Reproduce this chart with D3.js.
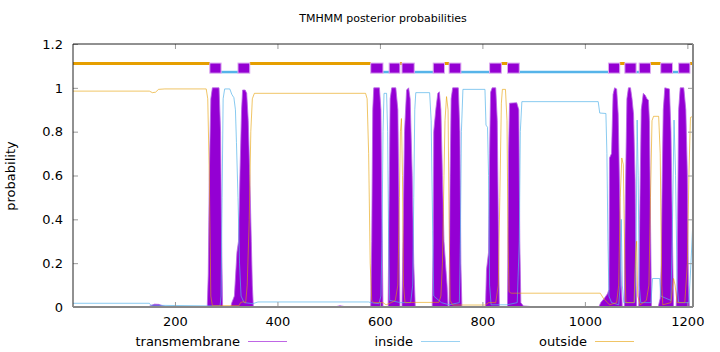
<!DOCTYPE html>
<html>
<head>
<meta charset="utf-8">
<script src="https://cdn.jsdelivr.net/npm/d3@7"></script>
<style>
  body { margin: 0; background: #fff; }
  svg { display: block; font-family: "DejaVu Sans", sans-serif; }
</style>
</head>
<body>
<svg id="chart" width="720" height="352"></svg>
<script>
const seqLength = 1211;

// predicted topology (residue ranges)
const tmSegments = [[268, 290], [323, 346], [582, 606], [618, 639], [643, 667], [704, 726], [735, 758],
  [814, 837], [849, 872], [1046, 1068], [1078, 1100], [1106, 1128], [1148, 1171], [1183, 1205]];
const insideSegments = [[290, 323], [606, 618], [667, 704], [758, 814], [872, 1046], [1100, 1106], [1171, 1183]];
const outsideSegments = [[1, 268], [346, 582], [639, 643], [726, 735], [837, 849], [1068, 1078], [1128, 1148], [1205, 1211]];

// posterior probabilities, [residue, probability]
const tmKnots = [[1, 0], [148, 0], [152, 0.006], [160, 0.013], [168, 0.012], [176, 0.006], [185, 0],
  [263, 0], [265, 0.15], [267, 0.6], [270, 0.95], [273, 1.0], [286, 1.0], [289, 0.8], [291, 0.3], [293, 0],
  [309, 0], [311, 0.02], [316, 0.05], [321, 0.25], [324, 0.3], [327, 0.62], [330, 0.9], [332, 0.99], [337, 0.99],
  [340, 0.975], [343, 0.85], [346, 0.6], [349, 0.3], [351, 0.1], [353, 0],
  [512, 0], [522, 0.006], [535, 0],
  [582, 0], [584, 0.3], [586, 0.9], [588, 1.0], [599, 1.0], [602, 0.9], [604, 0.4], [606, 0],
  [616, 0], [618, 0.5], [620, 0.95], [623, 1.0], [631, 1.0], [635, 0.9], [637, 0.5], [639, 0],
  [643, 0], [645, 0.3], [648, 0.8], [652, 0.99], [656, 1.0], [659, 0.95], [663, 0.6], [666, 0.2], [669, 0],
  [702, 0], [704, 0.3], [705, 0.8], [709, 0.9], [713, 0.975], [716, 0.982], [719, 0.9], [722, 0.6], [725, 0.3],
  [728, 0.2], [731, 0.1], [733, 0],
  [735, 0], [737, 0.6], [739, 0.95], [742, 1.0], [753, 1.0], [756, 0.8], [758, 0.2], [760, 0],
  [806, 0], [808, 0.17], [812, 0.25], [814, 0.7], [816, 0.98], [819, 1.0], [826, 1.0], [829, 0.85], [831, 0.4], [833, 0],
  [849, 0], [851, 0.7], [853, 0.93], [867, 0.932], [871, 0.9], [873, 0.3], [875, 0.02], [880, 0.005], [905, 0],
  [1027, 0], [1031, 0.02], [1038, 0.04], [1044, 0.06], [1047, 0.08], [1048, 0.68], [1052, 0.7], [1055, 0.97],
  [1058, 1.0], [1062, 0.995], [1065, 0.88], [1068, 0.5], [1071, 0.1], [1073, 0],
  [1077, 0], [1079, 0.5], [1082, 0.95], [1085, 1.0], [1089, 1.0], [1092, 0.95], [1095, 0.88], [1098, 0.58], [1100, 0.1], [1101, 0],
  [1105, 0], [1107, 0.4], [1110, 0.9], [1114, 0.975], [1118, 0.965], [1121, 0.95], [1124, 0.944], [1126, 0.85], [1128, 0.4], [1130, 0],
  [1143, 0], [1147, 0.04], [1149, 0.2], [1151, 0.6], [1153, 0.9], [1156, 1.0], [1165, 0.995], [1168, 0.8], [1171, 0.3], [1173, 0],
  [1178, 0], [1180, 0.1], [1181, 0.4], [1183, 0.9], [1186, 1.0], [1193, 1.0], [1197, 0.9], [1200, 0.6], [1202, 0.1], [1204, 0], [1211, 0]];

const insideKnots = [[1, 0.017], [150, 0.017], [153, 0.008], [264, 0.005], [288, 0.005], [290, 0.05], [292, 0.5],
  [294, 0.95], [297, 0.995], [307, 0.995], [311, 0.97], [315, 0.955], [318, 0.9], [320, 0.75], [323, 0.5], [326, 0.2],
  [329, 0.05], [335, 0.02], [352, 0.015], [358, 0.02], [362, 0.023], [578, 0.023], [582, 0.02], [598, 0.015],
  [602, 0.05], [604, 0.3], [606, 0.8], [608, 0.975], [613, 0.975], [615, 0.8], [617, 0.3], [619, 0.03], [640, 0.02],
  [660, 0.02], [664, 0.1], [666, 0.5], [668, 0.9], [670, 0.978], [697, 0.978], [700, 0.85], [703, 0.35], [705, 0.05],
  [720, 0.02], [735, 0.01], [755, 0.02], [757, 0.3], [759, 0.8], [762, 0.993], [805, 0.993], [807, 0.83], [810, 0.82],
  [812, 0.6], [814, 0.1], [817, 0.01], [848, 0.01], [868, 0.02], [872, 0.3], [874, 0.8], [877, 0.937], [1026, 0.937],
  [1029, 0.885], [1041, 0.883], [1043, 0.7], [1045, 0.3], [1047, 0.05], [1052, 0.02], [1066, 0.01], [1069, 0.1],
  [1071, 0.4], [1073, 0.1], [1076, 0.02], [1097, 0.02], [1100, 0.3], [1102, 0.853], [1104, 0.6], [1106, 0.1],
  [1109, 0.02], [1129, 0.02], [1132, 0.13], [1146, 0.13], [1148, 0.05], [1168, 0.03], [1171, 0.4], [1174, 0.853],
  [1177, 0.6], [1180, 0.1], [1183, 0.02], [1203, 0.02], [1207, 0.2], [1211, 0.4]];

const outsideKnots = [[1, 0.985], [150, 0.985], [156, 0.978], [162, 0.98], [168, 0.993], [180, 0.995], [261, 0.995],
  [264, 0.95], [267, 0.6], [270, 0.05], [273, 0.006], [325, 0.006], [328, 0.02], [333, 0.024], [338, 0.02], [341, 0.1],
  [345, 0.4], [348, 0.8], [351, 0.95], [355, 0.975], [572, 0.975], [575, 0.95], [578, 0.7], [581, 0.2], [584, 0.03],
  [588, 0.02], [606, 0.02], [612, 0.01], [622, 0.02], [630, 0.03], [635, 0.1], [638, 0.5], [640, 0.8], [642, 0.86],
  [644, 0.6], [646, 0.1], [649, 0.02], [668, 0.021], [715, 0.021], [719, 0.05], [722, 0.2], [725, 0.6], [727, 0.85],
  [730, 0.96], [733, 0.9], [735, 0.4], [737, 0.03], [742, 0.009], [806, 0.009], [812, 0.02], [826, 0.02], [831, 0.1],
  [834, 0.5], [837, 0.93], [839, 0.993], [845, 0.993], [848, 0.85], [850, 0.3], [852, 0.07], [856, 0.063],
  [1030, 0.063], [1036, 0.04], [1044, 0.02], [1048, 0.01], [1062, 0.02], [1066, 0.1], [1069, 0.5], [1072, 0.68],
  [1075, 0.65], [1078, 0.2], [1080, 0.02], [1096, 0.02], [1099, 0.25], [1101, 0.3], [1103, 0.05], [1108, 0.01],
  [1120, 0.03], [1125, 0.1], [1128, 0.5], [1131, 0.85], [1134, 0.87], [1144, 0.87], [1147, 0.7], [1150, 0.1],
  [1152, 0.01], [1168, 0.02], [1173, 0.13], [1176, 0.1], [1180, 0.02], [1195, 0.02], [1200, 0.2], [1203, 0.6],
  [1206, 0.865], [1211, 0.87]];

const xTicks = [200, 400, 600, 800, 1000, 1200];
const yTicks = [0, 0.2, 0.4, 0.6, 0.8, 1, 1.2];
const legendItems = ["transmembrane", "inside", "outside"];

const colTM = "#9400d3", colIn = "#56b4e9", colOut = "#e69f00";
const margin = { left: 73, right: 27, top: 44, bottom: 45 };
const width = 720, height = 352;

const svg = d3.select("#chart");
const x = d3.scaleLinear().domain([1, seqLength]).range([margin.left, width - margin.right]);
const y = d3.scaleLinear().domain([0, 1.2]).range([height - margin.bottom, margin.top]);

svg.append("text")
  .attr("x", 383).attr("y", 22)
  .attr("text-anchor", "middle")
  .style("font-size", "11px")
  .text("TMHMM posterior probabilities");

const plot = svg.append("g");

// transmembrane impulses as filled area
plot.append("path")
  .datum(tmKnots)
  .attr("fill", colTM)
  .attr("stroke", "#b864e4")
  .attr("stroke-width", 0.8)
  .attr("d", d3.area().x((d) => x(d[0])).y0(y(0)).y1((d) => y(d[1])));

const line = d3.line().x((d) => x(d[0])).y((d) => y(d[1]));

plot.append("path")
  .datum(insideKnots)
  .attr("fill", "none")
  .attr("stroke", colIn)
  .attr("stroke-opacity", 0.7)
  .attr("stroke-width", 1)
  .attr("d", line);

plot.append("path")
  .datum(outsideKnots)
  .attr("fill", "none")
  .attr("stroke", colOut)
  .attr("stroke-opacity", 0.6)
  .attr("stroke-width", 1)
  .attr("d", line);

// topology bar on top
plot.selectAll(".out-seg")
  .data(outsideSegments)
  .enter()
  .append("line")
  .attr("x1", (d) => x(d[0])).attr("x2", (d) => x(d[1]))
  .attr("y1", y(1.111)).attr("y2", y(1.111))
  .attr("stroke", colOut)
  .attr("stroke-width", 3);

plot.selectAll(".in-seg")
  .data(insideSegments)
  .enter()
  .append("line")
  .attr("x1", (d) => x(d[0])).attr("x2", (d) => x(d[1]))
  .attr("y1", y(1.072)).attr("y2", y(1.072))
  .attr("stroke", colIn)
  .attr("stroke-width", 2.5);

plot.selectAll(".tm-box")
  .data(tmSegments)
  .enter()
  .append("rect")
  .attr("x", (d) => x(d[0])).attr("width", (d) => x(d[1]) - x(d[0]))
  .attr("y", y(1.113)).attr("height", y(1.067) - y(1.113))
  .attr("fill", colTM)
  .attr("stroke", "#dba8f0")
  .attr("stroke-width", 1);

// axes with inward ticks
const yAxis = svg.append("g")
  .attr("transform", `translate(${margin.left},0)`)
  .call(d3.axisLeft(y).tickValues(yTicks).tickSize(-5).tickPadding(10).tickFormat(d3.format("~g")));
const yAxisR = svg.append("g")
  .attr("transform", `translate(${width - margin.right},0)`)
  .call(d3.axisRight(y).tickValues(yTicks).tickSize(-5).tickFormat(""));
const xAxis = svg.append("g")
  .attr("transform", `translate(0,${height - margin.bottom})`)
  .call(d3.axisBottom(x).tickValues(xTicks).tickSize(-5).tickPadding(10).tickFormat(d3.format("d")));
const xAxisT = svg.append("g")
  .attr("transform", `translate(0,${margin.top})`)
  .call(d3.axisTop(x).tickValues(xTicks).tickSize(-5).tickFormat(""));

[yAxis, yAxisR, xAxis, xAxisT].forEach((a) => {
  a.select(".domain").remove();
  a.selectAll(".tick line").attr("stroke", "#999");
  a.selectAll("text").style("font-size", "13px").attr("fill", "#000")
    .style("font-family", "DejaVu Sans, sans-serif");
});

// border
const x0 = margin.left, x1 = width - margin.right, y0 = height - margin.bottom, y1 = margin.top;
svg.append("line").attr("x1", x0).attr("x2", x1).attr("y1", y1).attr("y2", y1).attr("stroke", "#222");
svg.append("line").attr("x1", x0).attr("x2", x0).attr("y1", y1).attr("y2", y0).attr("stroke", "#222");
svg.append("line").attr("x1", x0).attr("x2", x1).attr("y1", y0).attr("y2", y0).attr("stroke", "#888").attr("stroke-width", 2);
svg.append("line").attr("x1", x1).attr("x2", x1).attr("y1", y1).attr("y2", y0).attr("stroke", "#888").attr("stroke-width", 2);

svg.append("text")
  .attr("transform", "translate(15,176) rotate(-90)")
  .attr("text-anchor", "middle")
  .style("font-size", "13px")
  .text("probability");

// legend
const legendColors = [colTM, colIn, colOut];
const legendTextRight = [240, 413, 587];
const legend = svg.selectAll(".legend")
  .data(legendItems)
  .enter()
  .append("g");
legend.append("text")
  .attr("x", (d, i) => legendTextRight[i])
  .attr("y", 346)
  .attr("text-anchor", "end")
  .style("font-size", "13px")
  .text((d) => d);
legend.append("line")
  .attr("x1", (d, i) => legendTextRight[i] + 8)
  .attr("x2", (d, i) => legendTextRight[i] + 47)
  .attr("y1", 341.5).attr("y2", 341.5)
  .attr("stroke", (d, i) => legendColors[i])
  .attr("stroke-opacity", 0.6)
  .attr("stroke-width", 1);
</script>
</body>
</html>
